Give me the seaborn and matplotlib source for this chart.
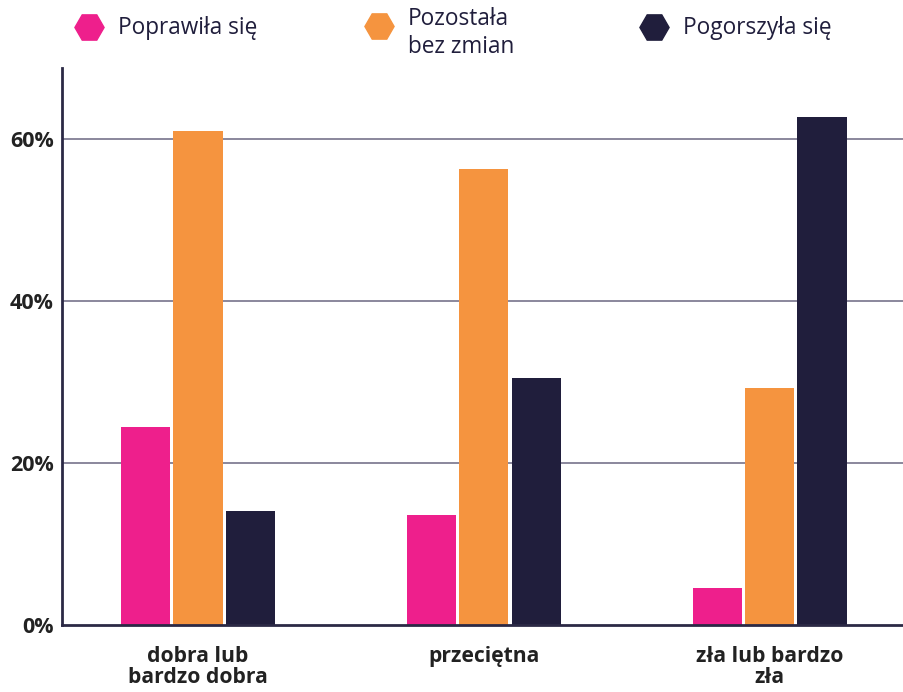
import matplotlib
matplotlib.use("Agg")
import matplotlib.pyplot as plt
from matplotlib.lines import Line2D
import seaborn as sns
import pandas as pd

categories = ["dobra lub\nbardzo dobra", "przeciętna", "zła lub bardzo\nzła"]
series = ["Poprawiła się", "Pozostała\nbez zmian", "Pogorszyła się"]
improved = [24.4, 13.6, 4.6]
unchanged = [60.9, 56.2, 29.2]
worse = [14.1, 30.5, 62.6]
colors = ["#EE1F8C", "#F5943F", "#201E3C"]
yticks = [0, 20, 40, 60]
ytick_labels = ["0%", "20%", "40%", "60%"]

rows = []
for s, vals in zip(series, [improved, unchanged, worse]):
    for c, v in zip(categories, vals):
        rows.append({"cat": c, "series": s, "value": v})
df = pd.DataFrame(rows)

sns.set_style("white")
plt.rcParams["font.family"] = ["Open Sans", "DejaVu Sans"]

W, H = 904, 692
fig = plt.figure(figsize=(W / 100, H / 100), dpi=100)
ax = fig.add_axes([62 / W, 1 - 625 / H, 1 - 62 / W, (625 - 68) / H])

sns.barplot(data=df, x="cat", y="value", hue="series", order=categories,
            hue_order=series, palette=colors, width=0.55, gap=0.06,
            saturation=1, ax=ax, legend=False, edgecolor="none")

ax.set_xlim(-0.476, 2.47)
ax.set_ylim(0, 68.7)
ax.set_yticks(yticks)
ax.set_yticklabels(ytick_labels, fontsize=15.5, fontweight="bold", color="#222222")
ax.tick_params(axis="y", length=0, pad=6)
ax.tick_params(axis="x", length=0, pad=15)
for lbl in ax.get_xticklabels():
    lbl.set_fontsize(15.2)
    lbl.set_fontweight("bold")
    lbl.set_color("#222222")
    lbl.set_linespacing(1.02)
ax.set_xlabel("")
ax.set_ylabel("")

for y in yticks[1:]:
    ax.axhline(y, color="#8A879C", lw=1.4, zorder=0)
ax.set_axisbelow(True)

for side in ["top", "right"]:
    ax.spines[side].set_visible(False)
for side in ["left", "bottom"]:
    ax.spines[side].set_color("#2B2945")
    ax.spines[side].set_linewidth(2)

# legend (manual placement, pixel coordinates)
marker_x = [88.7, 378.7, 653.5]
marker_y = [26.5, 25.5, 26.5]
text_baselines = [34, 53, 34]
for c, s, mx, my, tb in zip(colors, series, marker_x, marker_y, text_baselines):
    fig.add_artist(Line2D([mx / W], [1 - my / H], transform=fig.transFigure,
                          marker="H", markersize=21, linestyle="none",
                          markerfacecolor=c, markeredgecolor=c))
    fig.text((mx + 29.5) / W, 1 - tb / H, s, fontsize=16.3, color="#201E3C",
             ha="left", va="baseline", linespacing=1.2)

fig.savefig("out.png", dpi=100)
